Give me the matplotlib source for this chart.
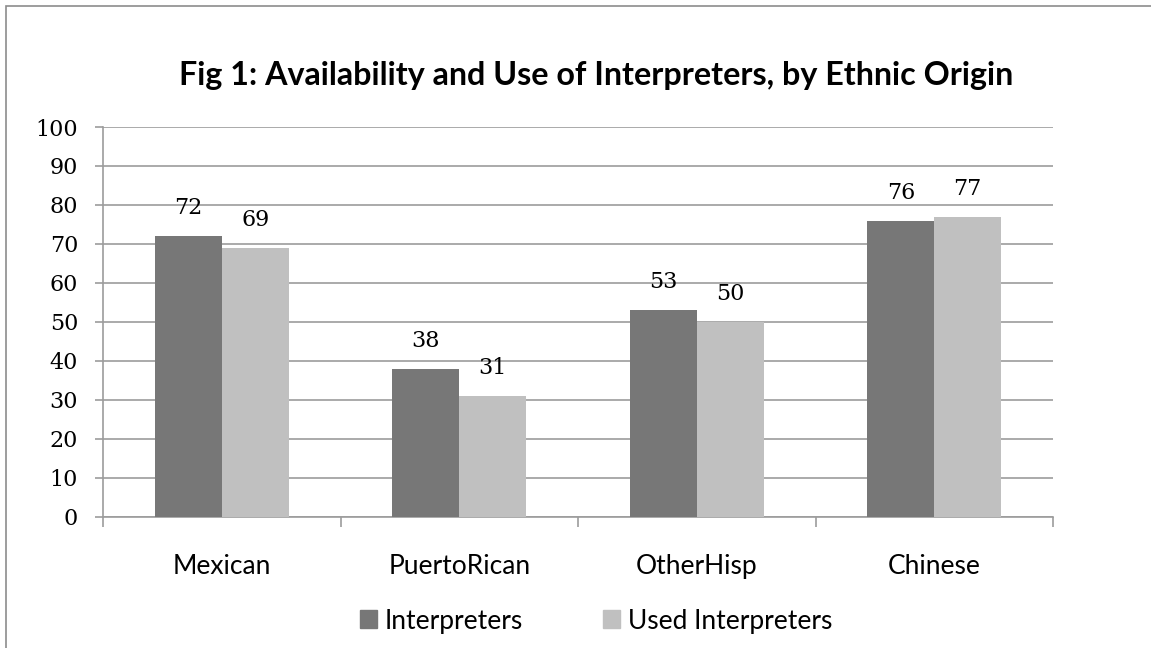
import matplotlib.pyplot as plt
import matplotlib.patches as mpatches
import numpy as np

# Dane: dostępność i korzystanie z tłumaczy wg pochodzenia etnicznego
categories = ['Mexican', 'PuertoRican', 'OtherHisp', 'Chinese']
interpreters = [72, 38, 53, 76]
used_interpreters = [69, 31, 50, 77]
series_names = ['Interpreters', 'Used Interpreters']
yticks = list(range(0, 101, 10))

dark = '#777777'
light = '#c0c0c0'
grid_col = '#9c9c9c'
sans = 'Lato'
serif = 'DejaVu Serif'

W, H = 1151, 648
fig = plt.figure(figsize=(W / 100, H / 100), dpi=100)

# Ramka wykresu (lewa i górna krawędź)
fig.patches.append(mpatches.Rectangle((6 / W, -0.1), 1.2, 1 - 6 / H + 0.1,
                                      transform=fig.transFigure, fill=False,
                                      edgecolor='#8c8c8c', linewidth=1.2))

ax = fig.add_axes([103 / W, (H - 516.7) / H, 950 / W, (516.7 - 127) / H])

x = np.arange(len(categories))
bw = 0.282
b1 = ax.bar(x - bw / 2, interpreters, bw, color=dark, zorder=3)
b2 = ax.bar(x + bw / 2, used_interpreters, bw, color=light, zorder=3)

# Etykiety wartości nad słupkami
for bars, vals in ((b1, interpreters), (b2, used_interpreters)):
    for rect, v in zip(bars, vals):
        ax.annotate(str(v), (rect.get_x() + rect.get_width() / 2, v),
                    xytext=(0, 12), textcoords='offset points',
                    ha='center', va='bottom', fontsize=16, family=serif)

ax.set_xlim(-0.5, len(categories) - 0.5)
ax.set_ylim(0, 100)
ax.set_yticks(yticks)
ax.set_yticklabels([str(t) for t in yticks], family=serif, fontsize=16)
ax.yaxis.grid(True, color=grid_col, linewidth=1.2, zorder=0)
ax.set_axisbelow(True)

ax.set_xticks(x)
ax.set_xticklabels(categories, family=sans, fontsize=19)
ax.set_xticks(np.arange(-0.5, len(categories)), minor=True)
ax.tick_params(axis='x', which='major', length=0, pad=27)
ax.tick_params(axis='x', which='minor', length=7, width=1.2, color=grid_col)
ax.tick_params(axis='y', length=6, width=1.2, color=grid_col, pad=12)

for s in ('top', 'right'):
    ax.spines[s].set_visible(False)
for s in ('left', 'bottom'):
    ax.spines[s].set_color(grid_col)
    ax.spines[s].set_linewidth(1.2)

fig.text(596 / W, 1 - 85 / H, 'Fig 1: Availability and Use of Interpreters, by Ethnic Origin',
         ha='center', va='baseline', fontsize=23.2, fontweight='bold', family=sans)

handles = [mpatches.Patch(color=dark), mpatches.Patch(color=light)]
fig.legend(handles, series_names, loc='center', bbox_to_anchor=(596 / W, 1 - 621 / H),
           ncol=2, frameon=False, prop={'family': sans, 'size': 19},
           handlelength=0.65, handleheight=0.65, handletextpad=0.3, columnspacing=3.0)

plt.savefig('out.png', dpi=100)
